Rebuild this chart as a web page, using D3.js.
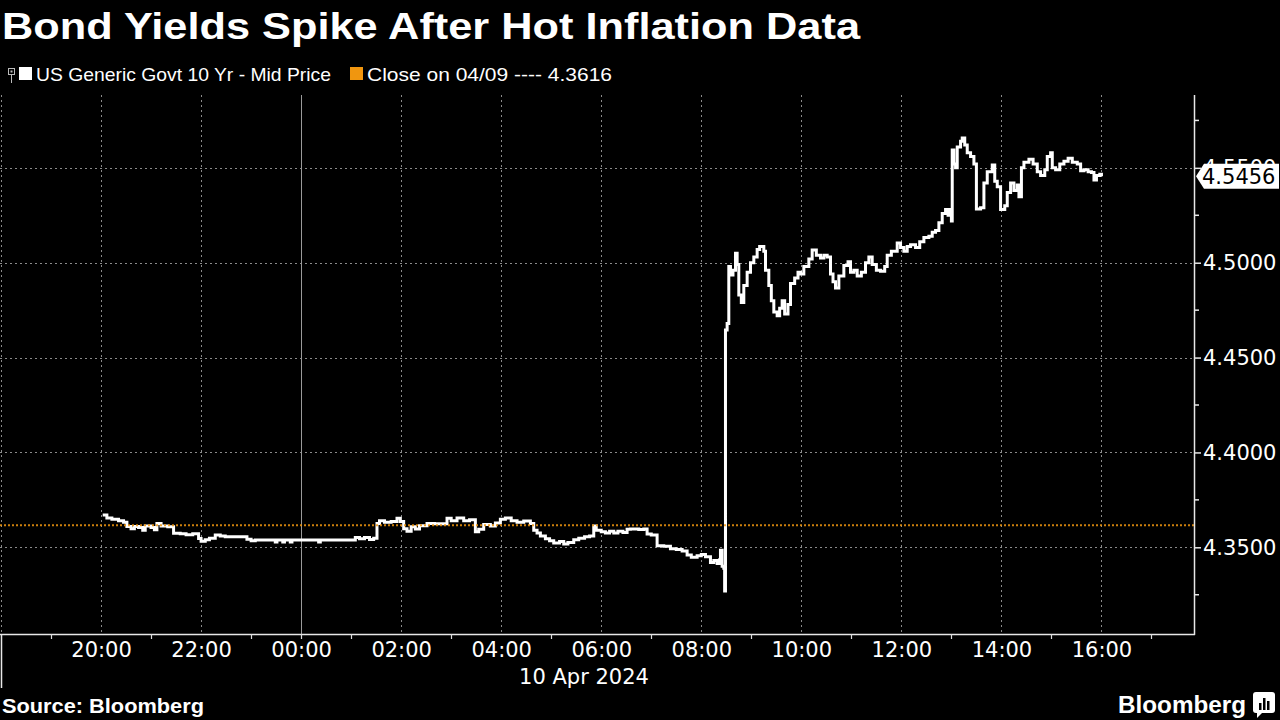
<!DOCTYPE html>
<html>
<head>
<meta charset="utf-8">
<script src="https://cdn.jsdelivr.net/npm/d3@7"></script>
<style>
  html, body { margin: 0; padding: 0; background: #000; }
  svg { display: block; }
</style>
</head>
<body>
<svg id="chart" width="1280" height="720"></svg>
<script>
// ---------------- DATA ----------------
const title = "Bond Yields Spike After Hot Inflation Data";
const seriesName = "US Generic Govt 10 Yr - Mid Price";
const closeLabel = "Close on 04/09 ---- 4.3616";
const priorClose = 4.3616;
const lastValue = 4.5456;
const dateLabel = "10 Apr 2024";
const sourceText = "Source: Bloomberg";

const times = [
  "2024-04-09T20:02","2024-04-09T20:07","2024-04-09T20:13","2024-04-09T20:21","2024-04-09T20:27",
  "2024-04-09T20:31","2024-04-09T20:36","2024-04-09T20:40","2024-04-09T20:45","2024-04-09T20:50",
  "2024-04-09T20:53","2024-04-09T21:00","2024-04-09T21:04","2024-04-09T21:07","2024-04-09T21:12",
  "2024-04-09T21:20","2024-04-09T21:27","2024-04-09T21:35","2024-04-09T21:42","2024-04-09T21:50",
  "2024-04-09T21:57","2024-04-09T22:00","2024-04-09T22:05","2024-04-09T22:10","2024-04-09T22:17",
  "2024-04-09T22:23","2024-04-09T22:29","2024-04-09T22:55","2024-04-09T23:00","2024-04-09T23:05",
  "2024-04-09T23:29","2024-04-09T23:31","2024-04-09T23:38","2024-04-09T23:40","2024-04-09T23:47",
  "2024-04-09T23:49","2024-04-10T00:21","2024-04-10T00:23","2024-04-10T01:05","2024-04-10T01:10",
  "2024-04-10T01:16","2024-04-10T01:22","2024-04-10T01:27","2024-04-10T01:31","2024-04-10T01:34",
  "2024-04-10T01:40","2024-04-10T01:48","2024-04-10T01:55","2024-04-10T01:59","2024-04-10T02:03",
  "2024-04-10T02:07","2024-04-10T02:12","2024-04-10T02:17","2024-04-10T02:22","2024-04-10T02:31",
  "2024-04-10T02:40","2024-04-10T02:55","2024-04-10T03:00","2024-04-10T03:07","2024-04-10T03:15",
  "2024-04-10T03:22","2024-04-10T03:29","2024-04-10T03:33","2024-04-10T03:39","2024-04-10T03:47",
  "2024-04-10T03:53","2024-04-10T03:59","2024-04-10T04:05","2024-04-10T04:12","2024-04-10T04:19",
  "2024-04-10T04:27","2024-04-10T04:35","2024-04-10T04:39","2024-04-10T04:43","2024-04-10T04:47",
  "2024-04-10T04:53","2024-04-10T04:58","2024-04-10T05:03","2024-04-10T05:10","2024-04-10T05:15",
  "2024-04-10T05:20","2024-04-10T05:27","2024-04-10T05:33","2024-04-10T05:40","2024-04-10T05:46",
  "2024-04-10T05:51","2024-04-10T05:54","2024-04-10T06:00","2024-04-10T06:05","2024-04-10T06:10",
  "2024-04-10T06:15","2024-04-10T06:20","2024-04-10T06:26","2024-04-10T06:31","2024-04-10T06:35",
  "2024-04-10T06:45","2024-04-10T06:51","2024-04-10T06:55","2024-04-10T07:00","2024-04-10T07:07",
  "2024-04-10T07:15","2024-04-10T07:23","2024-04-10T07:30","2024-04-10T07:37","2024-04-10T07:43",
  "2024-04-10T07:48","2024-04-10T07:55","2024-04-10T08:00","2024-04-10T08:05","2024-04-10T08:11",
  "2024-04-10T08:15","2024-04-10T08:19","2024-04-10T08:22","2024-04-10T08:23","2024-04-10T08:25",
  "2024-04-10T08:27","2024-04-10T08:28","2024-04-10T08:29","2024-04-10T08:31","2024-04-10T08:33",
  "2024-04-10T08:35","2024-04-10T08:38","2024-04-10T08:41","2024-04-10T08:43","2024-04-10T08:45",
  "2024-04-10T08:48","2024-04-10T08:51","2024-04-10T08:55","2024-04-10T08:59","2024-04-10T09:03",
  "2024-04-10T09:07","2024-04-10T09:10","2024-04-10T09:15","2024-04-10T09:17","2024-04-10T09:21",
  "2024-04-10T09:24","2024-04-10T09:27","2024-04-10T09:31","2024-04-10T09:34","2024-04-10T09:37",
  "2024-04-10T09:40","2024-04-10T09:44","2024-04-10T09:47","2024-04-10T09:52","2024-04-10T09:56",
  "2024-04-10T09:59","2024-04-10T10:03","2024-04-10T10:09","2024-04-10T10:13","2024-04-10T10:18",
  "2024-04-10T10:23","2024-04-10T10:27","2024-04-10T10:31","2024-04-10T10:35","2024-04-10T10:38",
  "2024-04-10T10:41","2024-04-10T10:45","2024-04-10T10:51","2024-04-10T10:56","2024-04-10T10:59",
  "2024-04-10T11:03","2024-04-10T11:07","2024-04-10T11:12","2024-04-10T11:17","2024-04-10T11:21",
  "2024-04-10T11:25","2024-04-10T11:30","2024-04-10T11:35","2024-04-10T11:40","2024-04-10T11:43",
  "2024-04-10T11:48","2024-04-10T11:55","2024-04-10T11:59","2024-04-10T12:03","2024-04-10T12:07",
  "2024-04-10T12:11","2024-04-10T12:17","2024-04-10T12:22","2024-04-10T12:27","2024-04-10T12:33",
  "2024-04-10T12:37","2024-04-10T12:41","2024-04-10T12:45","2024-04-10T12:49","2024-04-10T12:53",
  "2024-04-10T12:56","2024-04-10T12:59","2024-04-10T13:00","2024-04-10T13:01","2024-04-10T13:03",
  "2024-04-10T13:05","2024-04-10T13:07","2024-04-10T13:11","2024-04-10T13:13","2024-04-10T13:16",
  "2024-04-10T13:19","2024-04-10T13:23","2024-04-10T13:27","2024-04-10T13:30","2024-04-10T13:35",
  "2024-04-10T13:39","2024-04-10T13:43","2024-04-10T13:49","2024-04-10T13:52","2024-04-10T13:55",
  "2024-04-10T13:59","2024-04-10T14:04","2024-04-10T14:07","2024-04-10T14:11","2024-04-10T14:15",
  "2024-04-10T14:19","2024-04-10T14:21","2024-04-10T14:24","2024-04-10T14:27","2024-04-10T14:33",
  "2024-04-10T14:38","2024-04-10T14:43","2024-04-10T14:47","2024-04-10T14:52","2024-04-10T14:55",
  "2024-04-10T14:59","2024-04-10T15:01","2024-04-10T15:05","2024-04-10T15:10","2024-04-10T15:15",
  "2024-04-10T15:20","2024-04-10T15:25","2024-04-10T15:31","2024-04-10T15:35","2024-04-10T15:39",
  "2024-04-10T15:44","2024-04-10T15:48","2024-04-10T15:51","2024-04-10T15:54","2024-04-10T15:58",
  "2024-04-10T16:00"
];
const yields = [
  4.3670,4.3655,4.3648,4.3640,4.3632,
  4.3610,4.3598,4.3610,4.3605,4.3590,
  4.3612,4.3605,4.3592,4.3626,4.3612,
  4.3608,4.3574,4.3572,4.3566,4.3572,
  4.3547,4.3532,4.3540,4.3548,4.3565,
  4.3560,4.3556,4.3542,4.3535,4.3538,
  4.3528,4.3538,4.3528,4.3538,4.3528,
  4.3538,4.3528,4.3538,4.3552,4.3545,
  4.3552,4.3541,4.3548,4.3626,4.3640,
  4.3632,4.3636,4.3653,4.3636,4.3598,
  4.3585,4.3608,4.3596,4.3614,4.3626,
  4.3624,4.3653,4.3640,4.3655,4.3640,
  4.3645,4.3582,4.3595,4.3620,4.3612,
  4.3628,4.3648,4.3655,4.3640,4.3632,
  4.3638,4.3625,4.3590,4.3576,4.3560,
  4.3545,4.3535,4.3522,4.3530,4.3518,
  4.3525,4.3540,4.3548,4.3555,4.3560,
  4.3612,4.3590,4.3582,4.3575,4.3585,
  4.3576,4.3585,4.3578,4.3595,4.3596,
  4.3594,4.3596,4.3570,4.3565,4.3508,
  4.3505,4.3492,4.3488,4.3480,4.3460,
  4.3448,4.3455,4.3462,4.3450,4.3420,
  4.3430,4.3415,4.3435,4.3485,4.3400,
  4.3390,4.3270,4.4645,4.4680,4.4980,
  4.4935,4.4960,4.5050,4.4990,4.4830,
  4.4790,4.4880,4.4950,4.5000,4.5030,
  4.5070,4.5085,4.5060,4.4960,4.4880,
  4.4800,4.4740,4.4720,4.4760,4.4800,
  4.4730,4.4780,4.4890,4.4920,4.4950,
  4.4940,4.4980,4.5020,4.5067,4.5040,
  4.5025,4.5040,4.5030,4.4940,4.4900,
  4.4867,4.4930,4.4985,4.5005,4.4950,
  4.4960,4.4930,4.4950,4.5000,4.5030,
  4.4990,4.4960,4.4955,4.4980,4.5040,
  4.5060,4.5104,4.5080,4.5060,4.5085,
  4.5095,4.5080,4.5110,4.5133,4.5140,
  4.5160,4.5170,4.5210,4.5260,4.5280,
  4.5250,4.5280,4.5220,4.5594,4.5520,
  4.5500,4.5610,4.5640,4.5657,4.5620,
  4.5580,4.5560,4.5520,4.5283,4.5290,
  4.5420,4.5480,4.5515,4.5430,4.5400,
  4.5280,4.5300,4.5370,4.5420,4.5380,
  4.5410,4.5348,4.5500,4.5530,4.5545,
  4.5520,4.5480,4.5460,4.5490,4.5560,
  4.5580,4.5500,4.5490,4.5520,4.5535,
  4.5550,4.5530,4.5520,4.5485,4.5490,
  4.5480,4.5475,4.5436,4.5460,4.5466,
  4.5456
];

const yTickValues = [4.35, 4.40, 4.45, 4.50, 4.55];
const yMinorTickValues = [4.325, 4.375, 4.425, 4.475, 4.525, 4.575];
const yDomain = [4.3043, 4.5884];
const xDomain = ["2024-04-09T18:00", "2024-04-10T17:51"];
const xTickLabels = ["20:00","22:00","00:00","02:00","04:00","06:00","08:00","10:00","12:00","14:00","16:00"];
const xGridTimes = ["2024-04-09T18:00","2024-04-09T20:00","2024-04-09T22:00","2024-04-10T00:00","2024-04-10T02:00",
  "2024-04-10T04:00","2024-04-10T06:00","2024-04-10T08:00","2024-04-10T10:00","2024-04-10T12:00",
  "2024-04-10T14:00","2024-04-10T16:00"];
const midnight = "2024-04-10T00:00";

// ---------------- DRAW ----------------
const parse = d3.timeParse("%Y-%m-%dT%H:%M");
const data = times.map((t, i) => ({ t: parse(t), v: yields[i] }));

const svg = d3.select("#chart");
const W = 1280, H = 720;
const plotLeft = 1, plotRight = 1194, plotTop = 95, plotBottom = 634;

svg.append("rect").attr("width", W).attr("height", H).attr("fill", "#000");

const x = d3.scaleTime().domain(xDomain.map(parse)).range([plotLeft, plotRight]);
const y = d3.scaleLinear().domain(yDomain).range([plotBottom, plotTop]);

const gridColor = "#8a8a8a";
const axisFont = "DejaVu Sans, Verdana, sans-serif";

// horizontal grid
svg.append("g").selectAll("line").data(yTickValues).join("line")
  .attr("x1", 0).attr("x2", plotRight)
  .attr("y1", d => Math.round(y(d)) + 0.5).attr("y2", d => Math.round(y(d)) + 0.5)
  .attr("stroke", gridColor).attr("stroke-width", 1).attr("stroke-dasharray", "2,3");

// vertical grid
svg.append("g").selectAll("line").data(xGridTimes.map(parse)).join("line")
  .attr("x1", d => Math.round(x(d)) + 0.5).attr("x2", d => Math.round(x(d)) + 0.5)
  .attr("y1", plotTop).attr("y2", plotBottom)
  .attr("stroke", d => +d === +parse(midnight) ? "#9a9a9a" : gridColor)
  .attr("stroke-width", 1)
  .attr("stroke-dasharray", d => +d === +parse(midnight) ? null : "2,3");

// series line
const line = d3.line().x(d => x(d.t)).y(d => y(d.v)).curve(d3.curveStepAfter);
svg.append("path").datum(data)
  .attr("d", line)
  .attr("fill", "none").attr("stroke", "#ffffff").attr("stroke-width", 3)
  .attr("stroke-linejoin", "miter");

// prior close line (orange dotted)
svg.append("line")
  .attr("x1", 0).attr("x2", plotRight)
  .attr("y1", y(priorClose)).attr("y2", y(priorClose))
  .attr("stroke", "#f0960f").attr("stroke-width", 2).attr("stroke-dasharray", "2,2")
  .attr("opacity", 0.85);

// x axis (bottom)
const xAxis = d3.axisBottom(x)
  .tickValues(xTickLabels.map((s, i) => parse(xGridTimes[i + 1])))
  .tickFormat(d3.timeFormat("%H:%M"))
  .tickSize(0).tickPadding(8);
const gx = svg.append("g").attr("transform", `translate(0,${plotBottom})`).call(xAxis);
gx.select(".domain").remove();
gx.selectAll("text").attr("fill", "#fff").attr("font-family", axisFont).attr("font-size", 21);

// axis baseline
svg.append("line").attr("x1", 0).attr("x2", plotRight + 1)
  .attr("y1", plotBottom + 0.5).attr("y2", plotBottom + 0.5)
  .attr("stroke", "#e8e8e8").attr("stroke-width", 1.5);

// minor x ticks at odd hours and midnight
const oddHours = d3.timeHour.range(parse(xDomain[0]), parse(xDomain[1])).filter(d => d.getHours() % 2 === 1 || d.getHours() === 0);
svg.append("g").selectAll("line").data(oddHours).join("line")
  .attr("x1", d => Math.round(x(d)) + 0.5).attr("x2", d => Math.round(x(d)) + 0.5)
  .attr("y1", plotBottom).attr("y2", plotBottom + 5)
  .attr("stroke", "#ddd").attr("stroke-width", 1.2);

// date separator at left
svg.append("line").attr("x1", 1.5).attr("x2", 1.5).attr("y1", plotBottom).attr("y2", 688)
  .attr("stroke", "#e8e8e8").attr("stroke-width", 1.5);

// date label
svg.append("text").attr("x", 584).attr("y", 684).attr("text-anchor", "middle")
  .attr("fill", "#fff").attr("font-family", axisFont).attr("font-size", 21).text(dateLabel);

// y axis (right)
const yAxis = d3.axisRight(y).tickValues(yTickValues).tickFormat(d3.format(".4f"))
  .tickSize(7).tickPadding(2);
const gy = svg.append("g").attr("transform", `translate(${plotRight},0)`).call(yAxis);
gy.select(".domain").remove();
gy.selectAll("line").attr("stroke", "#e8e8e8").attr("stroke-width", 1.5);
gy.selectAll("text").attr("fill", "#fff").attr("font-family", axisFont).attr("font-size", 21);

svg.append("g").selectAll("line").data(yMinorTickValues).join("line")
  .attr("x1", plotRight).attr("x2", plotRight + 5)
  .attr("y1", d => y(d)).attr("y2", d => y(d))
  .attr("stroke", "#e8e8e8").attr("stroke-width", 1.5);

svg.append("line").attr("x1", plotRight + 0.5).attr("x2", plotRight + 0.5)
  .attr("y1", plotTop).attr("y2", plotBottom + 1)
  .attr("stroke", "#e8e8e8").attr("stroke-width", 1.5);

// last value tag
const ly = y(lastValue);
const tag = d3.path();
tag.moveTo(plotRight + 2, ly);
tag.lineTo(plotRight + 10, ly - 12.5);
tag.lineTo(1279, ly - 12.5);
tag.lineTo(1279, ly + 12.5);
tag.lineTo(plotRight + 10, ly + 12.5);
tag.closePath();
svg.append("path").attr("d", tag.toString()).attr("fill", "#fff");
svg.append("text").attr("x", 1202).attr("y", ly).attr("dy", "0.36em")
  .attr("fill", "#000").attr("font-family", axisFont).attr("font-size", 21)
  .text(d3.format(".4f")(lastValue));

// title
svg.append("text").attr("x", 2).attr("y", 39)
  .attr("fill", "#fff").attr("font-family", "Liberation Sans, Arial, sans-serif")
  .attr("font-weight", "bold").attr("font-size", 37)
  .attr("textLength", 858).attr("lengthAdjust", "spacingAndGlyphs")
  .text(title);

// legend
const lg = svg.append("g");
lg.append("rect").attr("x", 8.5).attr("y", 68.5).attr("width", 6).attr("height", 6)
  .attr("fill", "none").attr("stroke", "#bbb").attr("stroke-width", 1);
lg.append("rect").attr("x", 10.5).attr("y", 70.5).attr("width", 2).attr("height", 2).attr("fill", "#bbb");
lg.append("line").attr("x1", 11.5).attr("x2", 11.5).attr("y1", 75).attr("y2", 83)
  .attr("stroke", "#bbb").attr("stroke-width", 1);
lg.append("rect").attr("x", 19).attr("y", 67).attr("width", 13).attr("height", 13).attr("fill", "#fff");
lg.append("text").attr("x", 36).attr("y", 81)
  .attr("fill", "#fff").attr("font-family", "Liberation Sans, Arial, sans-serif").attr("font-size", 19)
  .attr("textLength", 295).attr("lengthAdjust", "spacingAndGlyphs").text(seriesName);
lg.append("rect").attr("x", 350).attr("y", 67).attr("width", 13).attr("height", 13).attr("fill", "#f0960f");
lg.append("text").attr("x", 367).attr("y", 81)
  .attr("fill", "#fff").attr("font-family", "Liberation Sans, Arial, sans-serif").attr("font-size", 19)
  .attr("textLength", 245).attr("lengthAdjust", "spacingAndGlyphs").text(closeLabel);

// footer
svg.append("text").attr("x", 2).attr("y", 713)
  .attr("fill", "#fff").attr("font-family", "Liberation Sans, Arial, sans-serif")
  .attr("font-weight", "bold").attr("font-size", 20)
  .attr("textLength", 202).attr("lengthAdjust", "spacingAndGlyphs").text(sourceText);

svg.append("text").attr("x", 1118).attr("y", 713)
  .attr("fill", "#fff").attr("font-family", "Liberation Sans, Arial, sans-serif")
  .attr("font-weight", "bold").attr("font-size", 24)
  .attr("textLength", 128).attr("lengthAdjust", "spacingAndGlyphs").text("Bloomberg");

// logo icon
const logo = svg.append("g").attr("transform", "translate(1253,692)");
logo.append("rect").attr("x", 0).attr("y", 0).attr("width", 22).attr("height", 21).attr("rx", 3).attr("fill", "#fff");
logo.append("path").attr("d", "M4,20 L4,26 L10,20 Z").attr("fill", "#fff");
[[6, 11, 7], [10, 6, 12], [14, 9, 9]].forEach(([bx, by, bh]) => {
  logo.append("rect").attr("x", bx).attr("y", by).attr("width", 2.5).attr("height", bh).attr("fill", "#000");
});
</script>
</body>
</html>
